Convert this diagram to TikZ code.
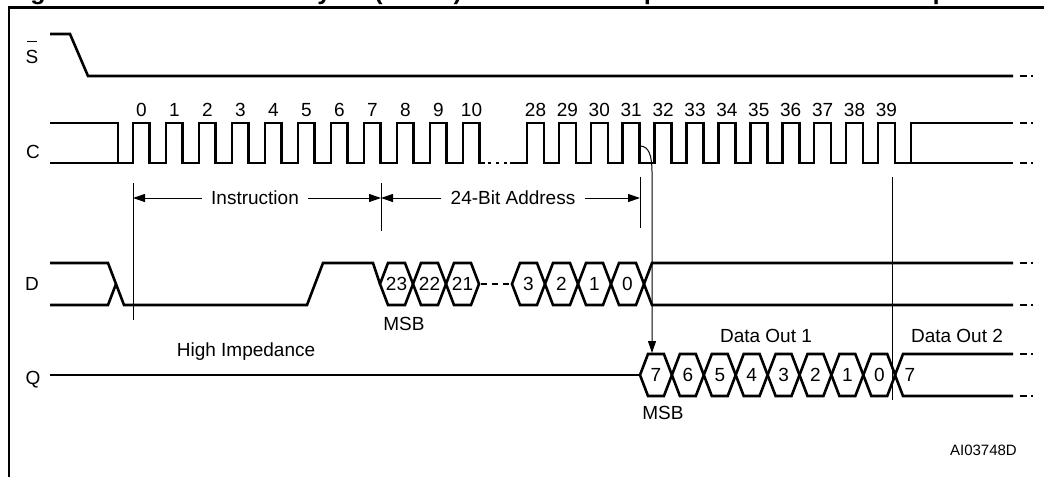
\documentclass[tikz,border=0pt]{standalone}
\usepackage{fontspec}
\setmainfont{Liberation Sans}
\usetikzlibrary{arrows.meta}
\newcommand\sigtrail[1]{%
  \draw[sig] (1020,#1) -- (1027,#1);
  \draw[sig] (1031,#1) -- (1033,#1);}
\begin{document}
\begin{tikzpicture}[x=1pt,y=-1pt,
  sig/.style={line width=2.6pt, line cap=butt, line join=miter},
  thinline/.style={line width=1pt},
  lbl/.style={font=\fontsize{19}{19}\selectfont, inner sep=0pt},
  small/.style={font=\fontsize{15}{15}\selectfont, inner sep=0pt},
  titlefont/.style={font=\bfseries\fontsize{25}{26}\selectfont, inner sep=0pt},
  dimarrow/.style={thinline, -{Triangle[length=12pt,width=8pt]}},
]
\useasboundingbox (0,0) rectangle (1044,477);

% title (cut off by the top edge: only descenders show)
\node[titlefont, anchor=base west] (title1) at (8,-1) {Figure 13.};
\node[titlefont, anchor=base west] (title2) at (170,-1) {Read Data Bytes (READ) Instruction Sequence and Data-Out Sequence};

% frame
\draw[line width=2.5pt] (1044,7.5) -- (9,7.5) -- (9,477);

% ---- S bar ----
\node[lbl] (slab) at (32,57) {S};
\draw[thinline] (27,41) -- (37,41);
\draw[sig] (50,34) -- (70,34) -- (88,76) -- (1013,76);
\sigtrail{76}

% ---- C ----
\node[lbl] (clab) at (33,152) {C};
\draw[sig] (50,123) -- (118,123) -- (118,163);
\draw[sig] (50,163) foreach \k in {0,...,10} {
   -- ({133+33*\k},163) -- ({133+33*\k},123) -- ({149.5+33*\k},123) -- ({149.5+33*\k},163) } -- (485,163);
\draw[sig, dash pattern=on 3pt off 5pt] (488,163) -- (508,163);
\draw[sig] (510,163) foreach \j in {0,...,11} {
   -- ({527+31.9*\j},163) -- ({527+31.9*\j},123) -- ({544+31.9*\j},123) -- ({544+31.9*\j},163) } -- (911,163) -- (911,123) -- (1013,123);
\draw[sig] (911,163) -- (1013,163);
\sigtrail{123}
\sigtrail{163}
\foreach \k in {0,...,10} \node[lbl] at ({141.5+33*\k},110) {\k};
\foreach \n [count=\j from 0] in {28,...,39} \node[lbl] at ({535.5+31.9*\j},110) {\n};

% ---- dimension lines ----
\draw[thinline] (133,183) -- (133,320);
\draw[thinline] (381,183) -- (381,231);
\draw[thinline] (640,177) -- (640,228);
\draw[thinline] (892,177) -- (892,400);
\node[lbl, inner xsep=9pt] (instr) at (255,198) {Instruction};
\draw[dimarrow] (instr.west) -- (133,198);
\draw[dimarrow] (instr.east) -- (381,198);
\node[lbl, inner xsep=9pt] (addr) at (513,198) {24-Bit Address};
\draw[dimarrow] (addr.west) -- (381,198);
\draw[dimarrow] (addr.east) -- (640,198);
\draw[thinline, -{Triangle[length=12pt,width=8pt]}] (640,146) .. controls (649,146) and (652,156) .. (652,172) -- (652,353);

% ---- D ----
\node[lbl] (dlab) at (32,284) {D};
\draw[sig] (50,263) -- (108,263) -- (124,305) -- (307,305) -- (323,263) -- (373,263) -- (380,284);
\draw[sig] (50,305) -- (108,305) -- (116,284);
\foreach \a/\t in {380/23, 413/22, 446/21, 512/3, 545/2, 578/1, 611/0} {
  \draw[sig] (\a,284) -- ({\a+8},263) -- ({\a+25},263) -- ({\a+33},284) -- ({\a+25},305) -- ({\a+8},305) -- cycle;
  \node[lbl] at ({\a+16.5},284) {\t};
}
\draw[sig, dash pattern=on 6pt off 5pt] (481,284) -- (512,284);
\draw[sig] (1013,263) -- (652,263) -- (644,284) -- (652,305) -- (1013,305);
\sigtrail{263}
\sigtrail{305}
\node[lbl] (msbd) at (404,324) {MSB};

% ---- Q ----
\node[lbl] (qlab) at (33,380) {Q};
\node[lbl] (hiz) at (246,352) {High Impedance};
\draw[sig] (50,375) -- (640,375);
\foreach \t [count=\i from 0] in {7,6,5,4,3,2,1,0} {
  \pgfmathsetmacro\qa{640+31.9*\i}
  \draw[sig] (\qa,375) -- ({\qa+8},354) -- ({\qa+23.9},354) -- ({\qa+31.9},375) -- ({\qa+23.9},396) -- ({\qa+8},396) -- cycle;
  \node[lbl] at ({\qa+16},375) {\t};
}
\draw[sig] (1013,354) -- (903,354) -- (895,375) -- (903,396) -- (1013,396);
\sigtrail{354}
\sigtrail{396}
\node[lbl] (q7) at (910,375) {7};
\node[lbl] (do1) at (766,336) {Data Out 1};
\node[lbl] (do2) at (957,336) {Data Out 2};
\node[lbl] (msbq) at (663,413) {MSB};
\node[small, anchor=east] (aiid) at (1017,450) {AI03748D};
\end{tikzpicture}
\end{document}
